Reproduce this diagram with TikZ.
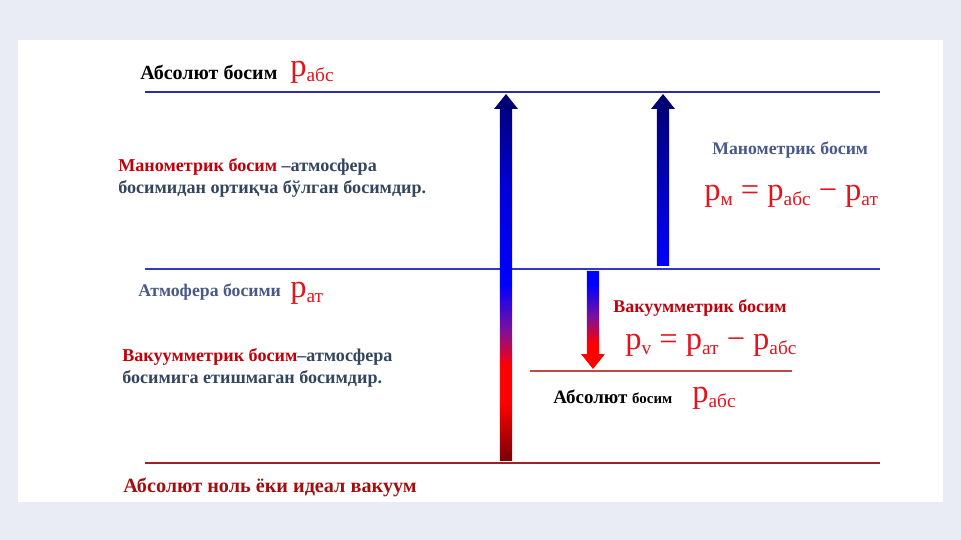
\documentclass[tikz,border=0pt]{standalone}
\usepackage{fontspec}
\setmainfont{Liberation Serif}
\usepackage{tikz}
\usetikzlibrary{calc}

\definecolor{pagebg}{HTML}{E9ECF5}
\definecolor{topline}{HTML}{2E2E9A}
\definecolor{atmline}{HTML}{3038C8}
\definecolor{redline}{HTML}{C04848}
\definecolor{botline}{HTML}{A0202A}
\definecolor{termred}{HTML}{C0000A}
\definecolor{descblue}{HTML}{34465E}
\definecolor{slate}{HTML}{4A5A88}
\definecolor{formred}{HTML}{E2141E}
\definecolor{botred}{HTML}{A01010}
\definecolor{arrdark}{HTML}{780008}
\definecolor{arrnavy}{HTML}{00006E}
\definecolor{arrpurple}{HTML}{7A10A0}

\pgfdeclareverticalshading{bigshade}{100bp}{color(0bp)=(arrdark); color(25bp)=(arrdark); color(33bp)=(red); color(38bp)=(red); color(43bp)=(arrpurple); color(49bp)=(blue); color(62bp)=(blue!85!black); color(75bp)=(arrnavy); color(100bp)=(arrnavy)}
\pgfdeclareverticalshading{manshade}{100bp}{color(0bp)=(blue); color(25bp)=(blue); color(75bp)=(arrnavy); color(100bp)=(arrnavy)}
\pgfdeclareverticalshading{vacshade}{100bp}{color(0bp)=(red); color(25bp)=(red); color(38bp)=(red); color(52bp)=(arrpurple); color(68bp)=(blue); color(100bp)=(blue)}

% block arrow: shading, tail, tip
\newcommand{\blockarr}[3]{%
  \shade[shading=#1] let \p1=(#2), \p2=(#3), \n1={ifthenelse(\y2>\y1,1,-1)} in
    (\x1-3.5pt,\y1) -- (\x1-3.5pt,\y2-\n1*8.5pt) -- (\x1-6.8pt,\y2-\n1*8.5pt) --
    (\x2,\y2) -- (\x1+6.8pt,\y2-\n1*8.5pt) -- (\x1+3.5pt,\y2-\n1*8.5pt) --
    (\x1+3.5pt,\y1) -- cycle;}
\newcommand{\psub}[1]{p\raisebox{-0.35ex}{\fontsize{11}{11}\selectfont #1}}

\begin{document}
\begin{tikzpicture}[x=0.02cm,y=-0.02cm,
    level/.style={line width=1.3pt},
    lbl/.style={anchor=west,inner sep=0pt,font=\fontsize{11.4}{13}\selectfont\bfseries},
    slatelbl/.style={lbl,text=slate,font=\fontsize{10.1}{12}\selectfont\bfseries},
    desc/.style={anchor=west,inner sep=0pt,align=left,text=descblue,
      font=\fontsize{10.3}{12.2}\selectfont\bfseries},
    pres/.style={anchor=west,inner sep=0pt,text=formred,font=\fontsize{18.5}{18.5}\selectfont}]
  \useasboundingbox (0,0) rectangle (961,540);
  \fill[pagebg] (0,0) rectangle (961,540);
  \fill[white] (18,40) rectangle (943,502);

  \coordinate (abs-l) at (145,92);   \coordinate (abs-r) at (880,92);
  \coordinate (atm-l) at (145,269);  \coordinate (atm-r) at (880,269);
  \coordinate (low-l) at (530,371);  \coordinate (low-r) at (792,371);
  \coordinate (zero-l) at (145,463); \coordinate (zero-r) at (880,463);
  \draw[level,topline] (abs-l) -- (abs-r);
  \draw[level,atmline] (atm-l) -- (atm-r);
  \draw[level,redline] (low-l) -- (low-r);
  \draw[level,botline] (zero-l) -- (zero-r);

  \coordinate (bigtail) at (506,461); \coordinate (bigtip) at (506,94);
  \coordinate (mantail) at (663,266); \coordinate (mantip) at (663,94);
  \coordinate (vactail) at (593,271); \coordinate (vactip) at (593,369);
  \blockarr{bigshade}{bigtail}{bigtip}
  \blockarr{manshade}{mantail}{mantip}
  \blockarr{vacshade}{vactail}{vactip}

  \node[lbl] (abstop) at (140,72) {Абсолют босим};
  \node[pres] (pabstop) at (290,72) {\psub{абс}};
  \node[desc] (mandesc) at (118,178) {\textcolor{termred}{Манометрик босим} –атмосфера\\босимидан ортиқча бўлган босимдир.};
  \node[slatelbl] (manlbl) at (712,150) {Манометрик босим};
  \node[pres] (manform) at (704,196) {\psub{м} = \psub{абс} − \psub{ат}};
  \node[slatelbl] (atmlbl) at (138,292) {Атмофера босими};
  \node[pres] (patm) at (290,293) {\psub{ат}};
  \node[lbl,text=termred,font=\fontsize{10.2}{12}\selectfont\bfseries] (vaclbl) at (613,308) {Вакуумметрик босим};
  \node[pres] (vacform) at (625,345) {\psub{v} = \psub{ат} − \psub{абс}};
  \node[desc] (vacdesc) at (122,368) {\textcolor{termred}{Вакуумметрик босим}–атмосфера\\босимига етишмаган босимдир.};
  \node[lbl,font=\fontsize{10.8}{13}\selectfont\bfseries] (abslow) at (553,397) {Абсолют {\fontsize{8.5}{10}\selectfont босим}};
  \node[pres] (pabslow) at (692,398) {\psub{абс}};
  \node[lbl,text=botred,font=\fontsize{11.5}{13}\selectfont\bfseries] (zerolbl) at (123,487) {Абсолют ноль ёки идеал вакуум};
\end{tikzpicture}
\end{document}
